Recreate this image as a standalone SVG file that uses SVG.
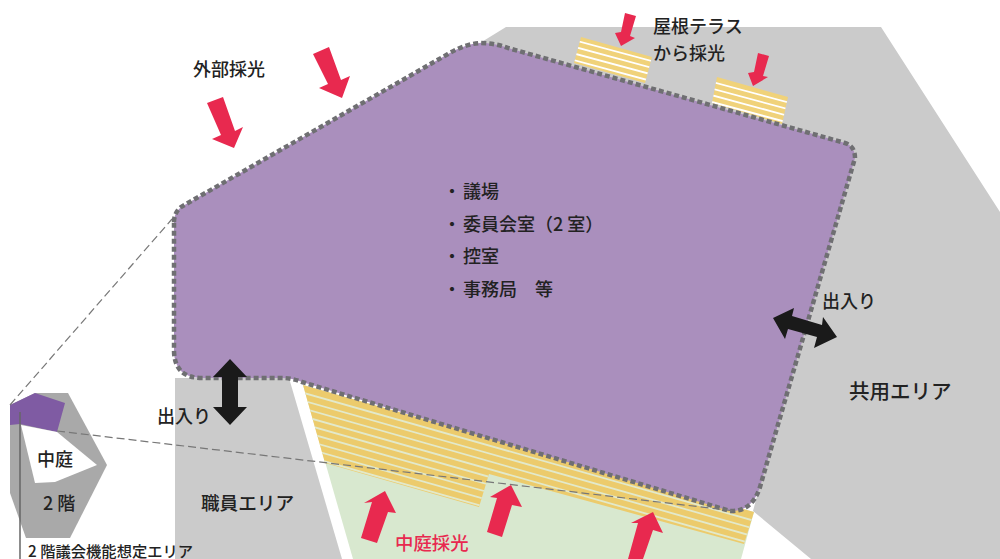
<svg xmlns="http://www.w3.org/2000/svg" width="1000" height="559" viewBox="0 0 1000 559">
<style>
text{font-family:"Noto Sans CJK JP","Noto Sans",sans-serif;font-size:18px;font-weight:500;fill:#222}
.gray{fill:#cbcbcb}
.red{fill:#e8294f}
.blk{fill:#1a1a1a}
.st{stroke:#e2e9cb;stroke-width:1.8;fill:none}
.sw{stroke:#fff;stroke-width:1.8;fill:none}
.dash{stroke:#777;stroke-width:1.2;stroke-dasharray:8 4;fill:none}
</style>
<defs>
<clipPath id="cA"><polygon points="303,385 754,512 744,544 489,474 479,507 325,463"/></clipPath>
<clipPath id="cB"><polygon points="581,37 652,57 645,83 574,63"/></clipPath>
<clipPath id="cC"><polygon points="717,77 788,97 782,124 712,103"/></clipPath>
</defs>
<rect width="1000" height="559" fill="#fff"/>
<g id="areas">
<polygon class="gray" points="506,27 881,27 1000,212 1000,559 811,559 753,511 850,150 480,43"/>
<polygon class="gray" points="175,378 289,378 342,559 175,559"/>
<polygon fill="#d8e8cf" points="303,385 754,512 741,559 353,559"/>
</g>
<g id="stripes">
<polygon fill="#eccb6c" points="303,385 754,512 744,544 489,474 479,507 325,463"/>
<g clip-path="url(#cA)" class="st">
<path d="M290 389L770 525.3M290 396.9L770 533.2M290 404.7L770 541M290 412.5L770 548.8M290 420.3L770 556.6M290 428.1L770 564.4M290 435.9L770 572.2M290 443.7L770 580M290 451.5L770 587.8M290 459.3L770 595.6"/>
</g>
<polygon fill="#f0d27a" points="581,37 652,57 645,83 574,63"/>
<g clip-path="url(#cB)" class="sw">
<path d="M570 39L660 63.3M570 45.7L660 70M570 52.4L660 76.7M570 59.1L660 83.4M570 65.8L660 90.1"/>
</g>
<polygon fill="#f0d27a" points="717,77 788,97 782,124 712,103"/>
<g clip-path="url(#cC)" class="sw">
<path d="M705 80L795 104.3M705 86.7L795 111M705 93.4L795 117.7M705 100.1L795 124.4M705 106.8L795 131.1"/>
</g>
</g>
<g id="hall">
<path d="M174 222Q174 213 181 207L448 54Q465 44 480 43Q495 43 508 48L845 143Q855 146 855 158L760 487Q752 512 730 511L302 382Q292 378 282 378L202 378Q174 378 174 350Z" fill="#aa8fbd" stroke="#6f6f72" stroke-width="4.5" stroke-dasharray="5 3"/>
</g>
<g id="inset">
<polygon fill="#a9a9a9" points="10,405 35,393 68,393 107,465 70,538 26,538 10,493"/>
<polygon fill="#7f5ba3" points="10,405 35,393 65,403 57,432 20,424 10,425"/>
<polygon fill="#fff" points="21,425 57,432 97,465 55,482 35,483"/>
<path d="M20 412V559" stroke="#666" stroke-width="1.5"/>
</g>
<g id="connectors">
<path class="dash" d="M10 405L172 219"/>
<path class="dash" d="M57 431L735 511"/>
</g>
<g id="light">
<polygon class="red" points="207,103 223,97 235,131 243,127 234,148 212,139 221,135"/>
<polygon class="red" points="313,54 329,47 341,80 350,76 342,98 319,88 328,84"/>
<polygon class="red" points="625,13 636,16 630,36 635,38 621,46 615,33 621,32"/>
<polygon class="red" points="758,53 769,56 763,76 768,77 753,86 748,73 754,72"/>
<polygon class="red" points="385,491 396,513 388,512 377,543 361,538 372,502 364,503"/>
<polygon class="red" points="511,485 522,507 512,505 502,537 487,532 497,498 490,497"/>
<polygon class="red" points="653,512 663,533 653,530 643,559 628,559 638,523 631,523"/>
</g>
<g id="access">
<polygon class="blk" points="230,359 247,377 238,377 238,407 247,407 230,425 213,407 222,407 222,377 213,377"/>
<polygon class="blk" points="773,318 794,308 792,316 822,325 823,317 837,337 814,348 817,337 788,329 785,339"/>
</g>
<g id="labels">
<text x="193" y="76">外部採光</text>
<text x="653" y="33">屋根テラス</text>
<text x="653" y="60">から採光</text>
<text x="443" y="198">・<tspan x="463">議場</tspan></text>
<text x="443" y="231">・<tspan x="463">委員会室（2 室）</tspan></text>
<text x="443" y="263">・<tspan x="463">控室</tspan></text>
<text x="443" y="296">・<tspan x="463">事務局　等</tspan></text>
<text x="822" y="308">出入り</text>
<text x="157" y="423">出入り</text>
<text x="849" y="399" style="font-size:20.5px">共用エリア</text>
<text x="201" y="510" style="font-size:18.6px">職員エリア</text>
<text x="37" y="466">中庭</text>
<text x="43" y="510">2 階</text>
<text x="28" y="557" style="font-size:15.3px">2 階議会機能想定エリア</text>
<text x="395" y="550" style="fill:#e8294f;font-size:18.4px">中庭採光</text>
</g>
</svg>
